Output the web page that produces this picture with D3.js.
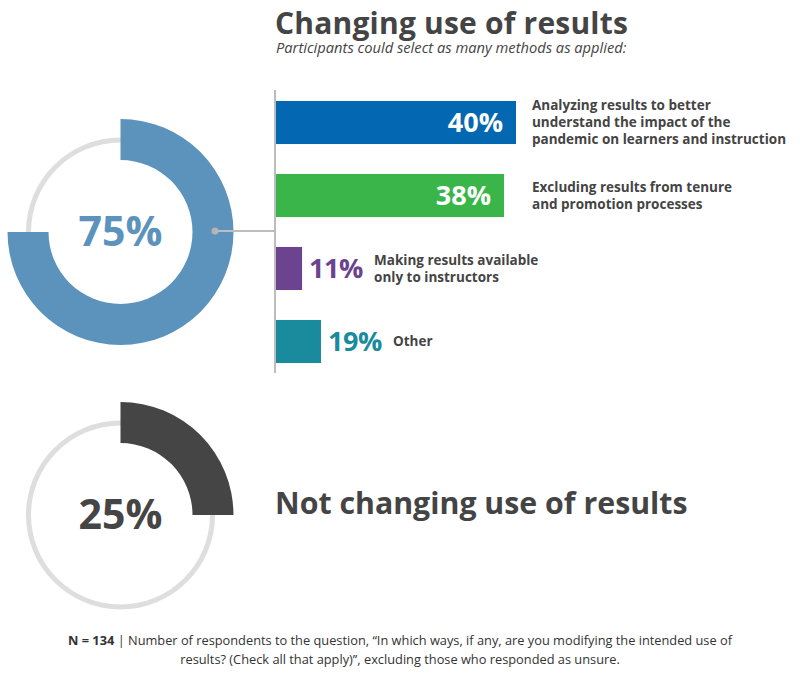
<!DOCTYPE html>
<html>
<head>
<meta charset="utf-8">
<script src="https://cdn.jsdelivr.net/npm/d3@7"></script>
<style>
  html, body { margin: 0; padding: 0; background: #fff; }
  svg { display: block; font-family: "Open Sans", "DejaVu Sans", sans-serif; }
</style>
</head>
<body>
<div id="chart"></div>
<script>
// Thay đổi cách dùng kết quả – donut + bar
const changingPct    = 75;
const notChangingPct = 25;

const methods = ["analyze", "exclude", "instructors", "other"];
const methodPct = [40, 38, 11, 19];
const methodLabels = [
  ["Analyzing results to better", "understand the impact of the", "pandemic on learners and instruction"],
  ["Excluding results from tenure", "and promotion processes"],
  ["Making results available", "only to instructors"],
  ["Other"]
];
const methodColors = ["#0467b1", "#39b54a", "#6b438f", "#1a8b9d"];

const titleText    = "Changing use of results";
const subtitleText = "Participants could select as many methods as applied:";
const notChangingText = "Not changing use of results";
const footNoteBold = "N = 134";
const footNoteLines = [
  " | Number of respondents to the question, \u201cIn which ways, if any, are you modifying the intended use of",
  "results? (Check all that apply)\u201d, excluding those who responded as unsure."
];

const W = 800, H = 676;
const textCol = "#444";

const svg = d3.select("#chart").append("svg")
  .attr("width", W).attr("height", H);

// Tiêu đề
svg.append("text")
  .attr("x", 275).attr("y", 33.5)
  .attr("font-size", 30).attr("font-weight", 700)
  .attr("letter-spacing", 0.2)
  .attr("fill", textCol)
  .text(titleText);

svg.append("text")
  .attr("x", 276).attr("y", 52.5)
  .attr("font-size", 14.7).attr("font-style", "italic")
  .attr("fill", textCol)
  .text(subtitleText);

// Donut
const angle = d3.scaleLinear().domain([0, 100]).range([0, 2 * Math.PI]);
const ringArc = d3.arc().innerRadius(89.5).outerRadius(94.5).startAngle(0).endAngle(2 * Math.PI);
const valArc  = d3.arc().innerRadius(72).outerRadius(113).startAngle(0);

function donut(cx, cy, pct, color) {
  const g = svg.append("g").attr("transform", `translate(${cx},${cy})`);
  g.append("path").attr("d", ringArc()).attr("fill", "#dedede");
  g.append("path").attr("d", valArc.endAngle(angle(pct))()).attr("fill", color);
  g.append("text")
    .attr("text-anchor", "middle").attr("dy", "0.35em")
    .attr("font-size", 41).attr("font-weight", 700)
    .attr("fill", color)
    .text(pct + "%");
  return g;
}

donut(120.5, 232, changingPct, "#5b93bd");
donut(120.5, 515, notChangingPct, "#454545");

// Bars
const x = d3.scaleLinear()
  .domain([0, 19, 38, 40])          // tỉ lệ như bản gốc (không tuyến tính)
  .range([276, 321, 504, 516]);

const y = d3.scaleBand()
  .domain(methods)
  .range([86, 378])
  .paddingInner(0.41).paddingOuter(0.205);

// trục dọc + đường nối
svg.append("line")
  .attr("x1", 275).attr("x2", 275)
  .attr("y1", 90).attr("y2", 373)
  .attr("stroke", "#bdbdbd").attr("stroke-width", 2);

svg.append("line")
  .attr("x1", 215).attr("x2", 275)
  .attr("y1", 231).attr("y2", 231)
  .attr("stroke", "#bdbdbd").attr("stroke-width", 2);
svg.append("circle")
  .attr("cx", 215).attr("cy", 231).attr("r", 3.5)
  .attr("fill", "#b5b5b5");

const rows = methods.map((k, i) => ({ k, v: methodPct[i], label: methodLabels[i], color: methodColors[i] }));
const isInside = d => x(d.v) - x(0) > 100;
const insideLabelX = x(d3.max(rows.filter(isInside), d => d.v)) + 16;

const gBars = svg.append("g");
rows.forEach(d => {
  const y0 = y(d.k), bw = y.bandwidth();
  const xEnd = x(d.v);
  gBars.append("rect")
    .attr("x", x(0)).attr("y", y0)
    .attr("width", xEnd - x(0)).attr("height", bw)
    .attr("fill", d.color);

  const inside = isInside(d);
  gBars.append("text")
    .attr("y", y0 + bw / 2).attr("dy", "0.36em")
    .attr("font-size", 27).attr("font-weight", 700)
    .attr("fill", inside ? "#fff" : d.color)
    .attr("text-anchor", inside ? "end" : "start")
    .attr("x", inside ? xEnd - 13 : xEnd + 7)
    .attr("letter-spacing", inside ? 0 : -0.5)
    .text(d.v + "%");

  const lx = inside ? insideLabelX : xEnd + 72;
  const lh = 17;
  const top = y0 + bw / 2 - (d.label.length - 1) * lh / 2;
  const t = gBars.append("text")
    .attr("font-size", 13.5).attr("font-weight", 700)
    .attr("fill", textCol);
  d.label.forEach((line, j) => {
    t.append("tspan").attr("x", lx).attr("y", top + j * lh).attr("dy", "0.35em").text(line);
  });
});

// Không thay đổi
svg.append("text")
  .attr("x", 275).attr("y", 503).attr("dy", "0.35em")
  .attr("font-size", 30.3).attr("font-weight", 700)
  .attr("fill", textCol)
  .text(notChangingText);

// Chú thích
const fn = svg.append("text")
  .attr("text-anchor", "middle")
  .attr("font-size", 12.8).attr("fill", "#333");
const l1 = fn.append("tspan").attr("x", 400).attr("y", 645);
l1.append("tspan").attr("font-weight", 700).text(footNoteBold);
l1.append("tspan").text(footNoteLines[0]);
fn.append("tspan").attr("x", 400).attr("y", 664).text(footNoteLines[1]);
</script>
</body>
</html>
